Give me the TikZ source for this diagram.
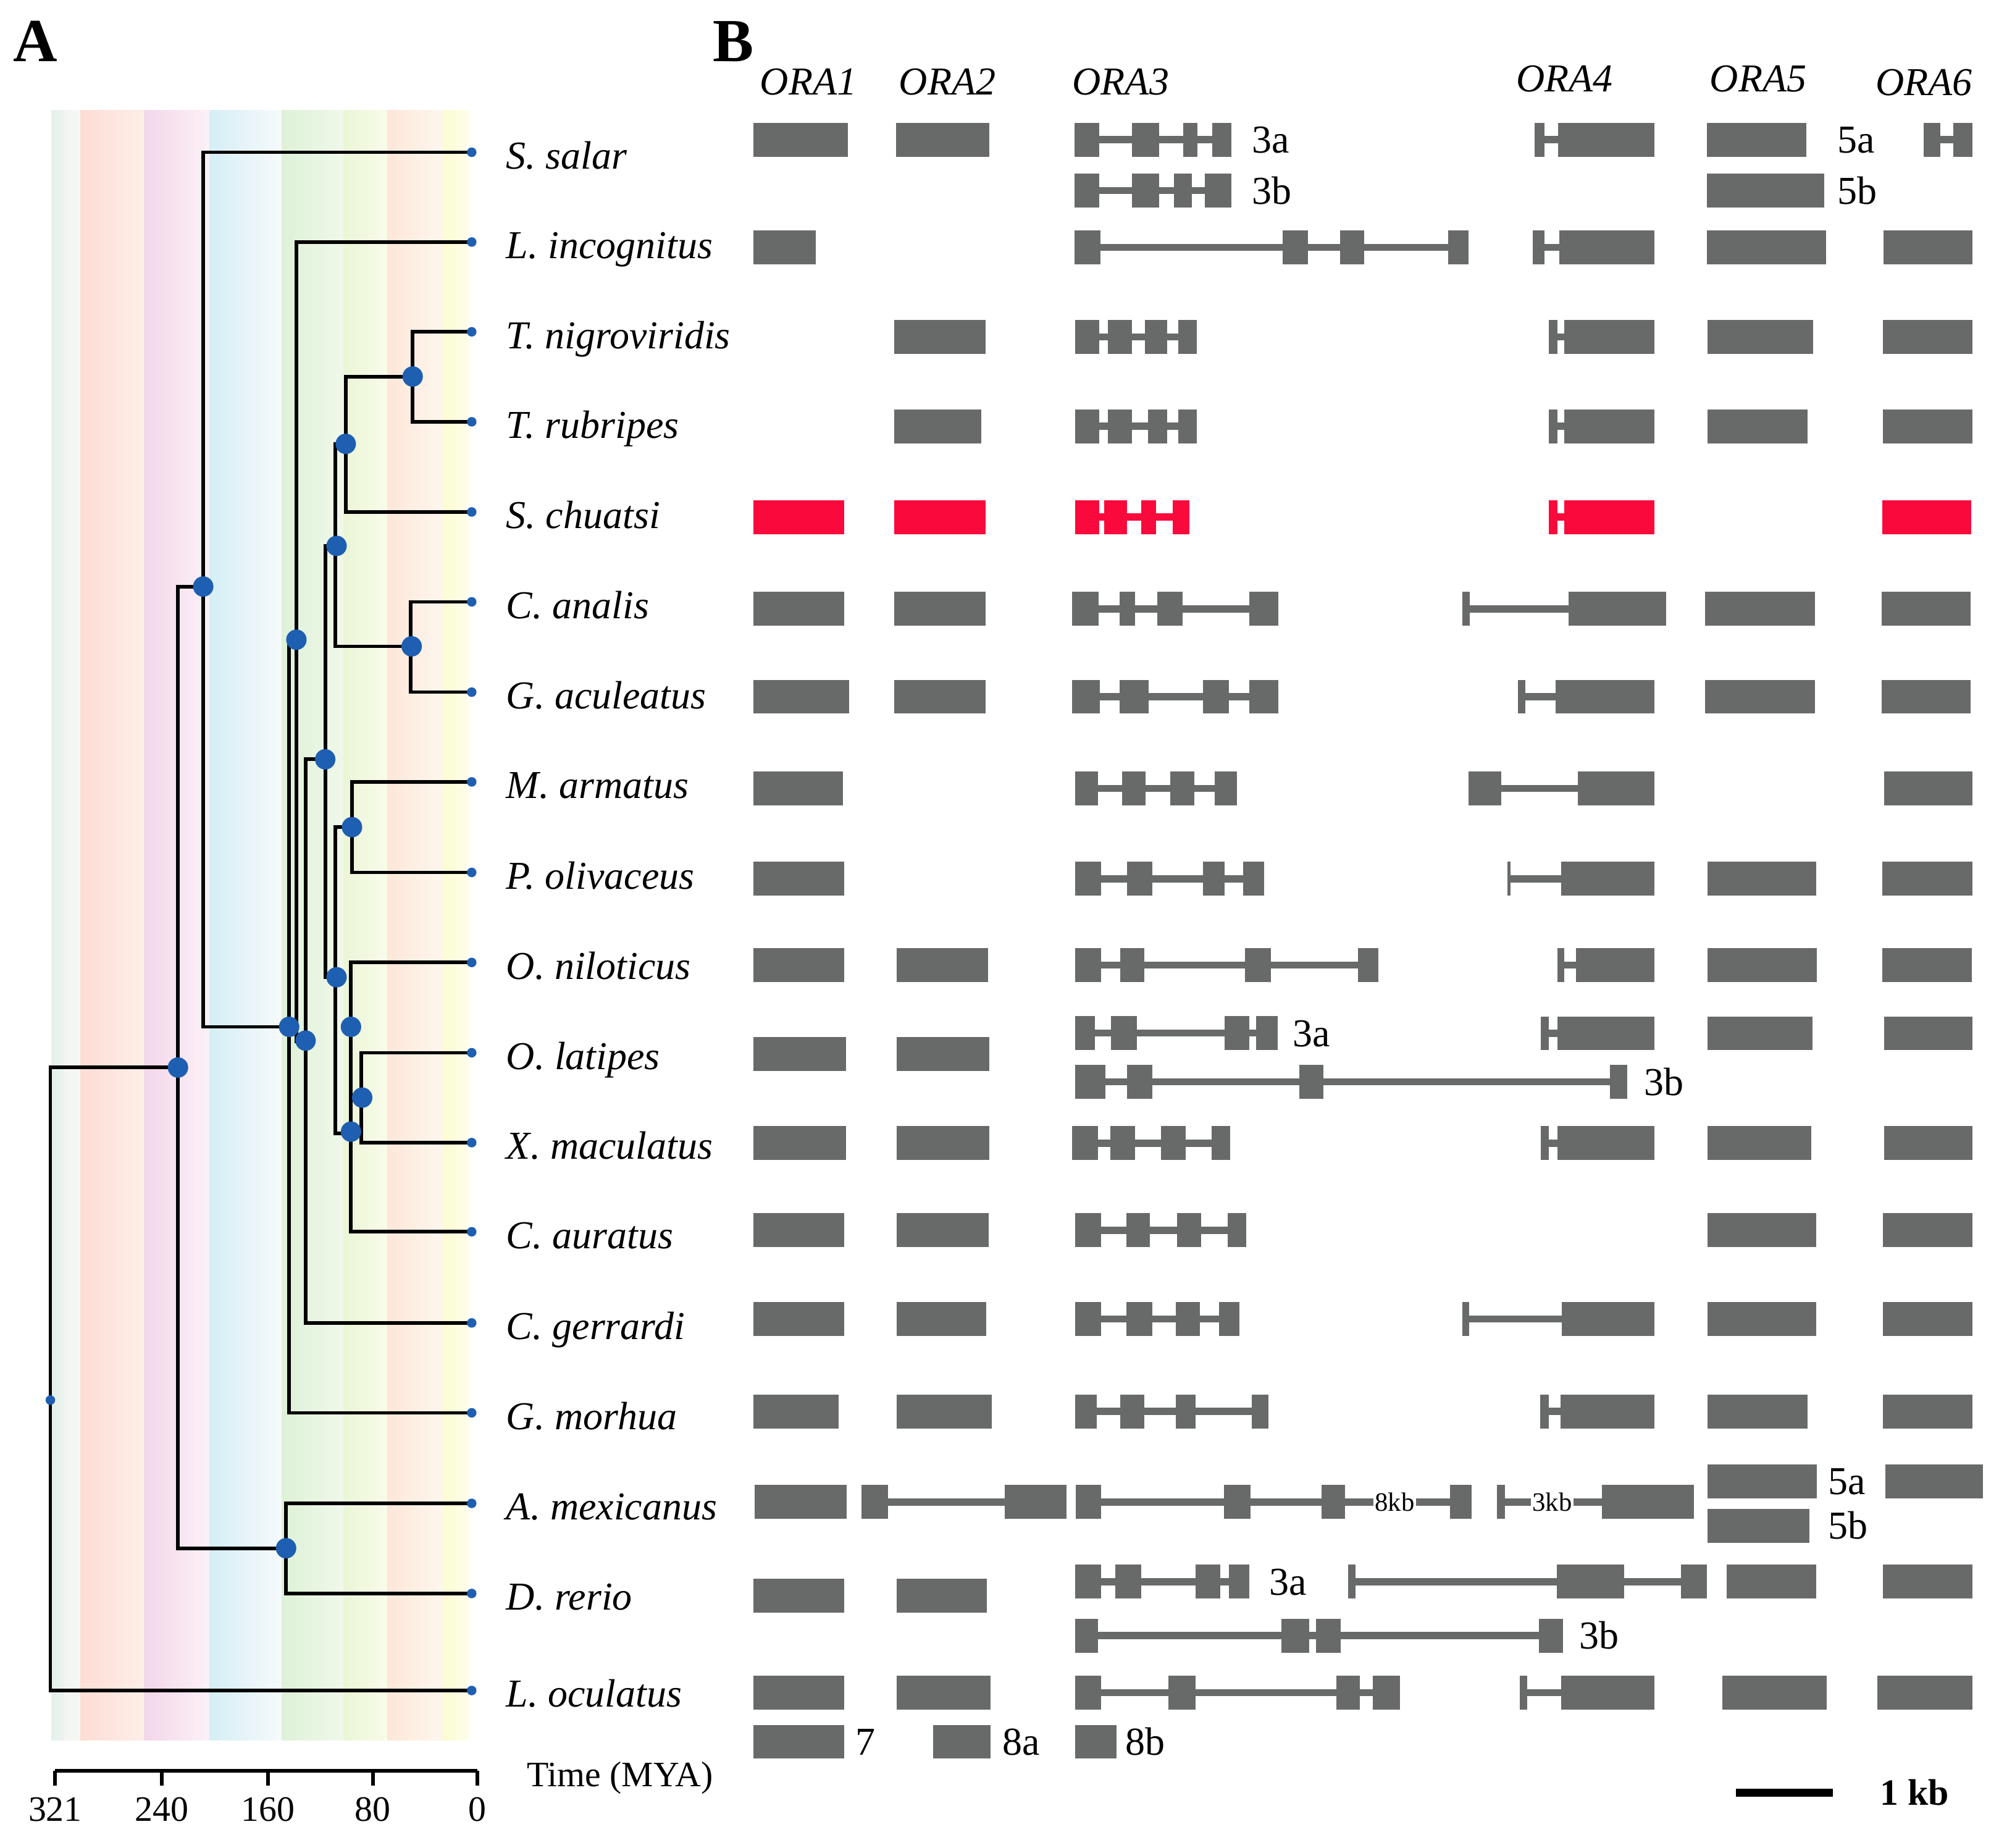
\documentclass[tikz,border=0pt]{standalone}
\usepackage{fontspec}
\setmainfont{Liberation Serif}
\definecolor{gg}{RGB}{104,106,106}
\definecolor{rd}{RGB}{250,10,60}
\definecolor{bl}{RGB}{30,95,178}
\definecolor{bAl}{RGB}{229,240,234}\definecolor{bAr}{RGB}{236,243,238}
\definecolor{bBl}{RGB}{242,245,241}\definecolor{bBr}{RGB}{246,247,244}
\definecolor{bCl}{RGB}{253,221,213}\definecolor{bCr}{RGB}{253,238,232}
\definecolor{bDl}{RGB}{243,215,235}\definecolor{bDr}{RGB}{252,240,246}
\definecolor{bEl}{RGB}{213,238,246}\definecolor{bEr}{RGB}{246,250,251}
\definecolor{bFl}{RGB}{222,241,215}\definecolor{bFr}{RGB}{240,248,234}
\definecolor{bGl}{RGB}{234,246,214}\definecolor{bGr}{RGB}{249,251,234}
\definecolor{bHl}{RGB}{253,231,216}\definecolor{bHr}{RGB}{253,246,238}
\definecolor{bIl}{RGB}{252,252,210}\definecolor{bIr}{RGB}{253,253,232}
\newcommand{\gEx}[4][gg]{\fill[#1] (#2,#4-13.3) rectangle (#3,#4+13.3);}
\newcommand{\gIn}[4][gg]{\fill[#1] (#2,#4-2.8) rectangle (#3,#4+2.8);}
\begin{document}
\begin{tikzpicture}[x=1pt,y=-1pt,
  treeline/.style={line width=2.8pt, line join=miter},
  bigdot/.style={circle, fill=bl, inner sep=0pt, minimum size=16pt},
  tipdot/.style={circle, fill=bl, inner sep=0pt, minimum size=7.5pt},
  spname/.style={anchor=base west, inner sep=0pt, font=\fontsize{31}{36}\selectfont\itshape},
  glab/.style={anchor=base west, inner sep=0pt, font=\fontsize{31}{36}\selectfont},
  oralab/.style={anchor=base west, inner sep=0pt, font=\fontsize{31}{36}\selectfont\itshape},
  kblab/.style={fill=white, inner sep=1pt, font=\fontsize{20.7}{24}\selectfont},
  axlab/.style={anchor=base, inner sep=0pt, font=\fontsize{28}{32}\selectfont},
  panel/.style={anchor=base west, inner sep=0pt, font=\fontsize{48}{54}\selectfont\bfseries}]
\useasboundingbox (0,0) rectangle (1568,1449);
\fill[white] (0,0) rectangle (1568,1449);

% ---------- background bands ----------
\shade[left color=bAl,right color=bAr] (40.3,86.5) rectangle (50.7,1365);
\shade[left color=bBl,right color=bBr] (50.7,86.5) rectangle (63,1365);
\shade[left color=bCl,right color=bCr] (63,86.5) rectangle (113.2,1365);
\shade[left color=bDl,right color=bDr] (113.2,86.5) rectangle (164.3,1365);
\shade[left color=bEl,right color=bEr] (164.3,86.5) rectangle (221.2,1365);
\shade[left color=bFl,right color=bFr] (221.2,86.5) rectangle (269.4,1365);
\shade[left color=bGl,right color=bGr] (269.4,86.5) rectangle (304,1365);
\shade[left color=bHl,right color=bHr] (304,86.5) rectangle (347.2,1365);
\shade[left color=bIl,right color=bIr] (347.2,86.5) rectangle (365.3,1365);
\shade[left color=bIr,right color=white] (365.3,86.5) rectangle (370.5,1365);

% ---------- panel labels ----------
\node[panel] (pA) at (10,48) {A};
\node[panel] (pB) at (559,48) {B};

% ---------- tips and species ----------
\foreach \n/\yy/\nm in {1/119.4/S. salar, 2/189.8/L. incognitus, 3/260.2/T. nigroviridis,
  4/330.8/T. rubripes, 5/401.5/S. chuatsi, 6/472/C. analis, 7/542.8/G. aculeatus,
  8/613.2/M. armatus, 9/684.2/P. olivaceus, 10/754.8/O. niloticus, 11/825.6/O. latipes,
  12/896.1/X. maculatus, 13/966/C. auratus, 14/1037.5/C. gerrardi, 15/1108/G. morhua,
  16/1179/A. mexicanus, 17/1249.7/D. rerio, 18/1325.8/L. oculatus}
  {\coordinate (t\n) at (370,\yy);
   \node[spname] (s\n) at (397,\yy+13) {\nm};}

% ---------- tree ----------
\draw[treeline] (t18) -| (39.5,837.2) -- (139.6,837.2);
\draw[treeline] (159.4,460) -- (139.6,460) -- (139.6,1214.2) -- (224.4,1214.2);
\draw[treeline] (t16) -| (224.4,1249.7) -- (t17);
\draw[treeline] (t1) -| (159.4,805.3) -- (226.8,805.3);
\draw[treeline] (t2) -| (232.5,818);
\draw[treeline] (t15) -| (226.8,501.7) -- (232.5,501.7);
\draw[treeline] (t14) -| (239.7,595.5) -- (255.1,595.5);
\draw[treeline] (263.2,428.1) -- (255.1,428.1) -- (255.1,766.4) -- (263.2,766.4);
\draw[treeline] (271.2,348.1) -- (263.2,348.1) -- (263.2,506.9) -- (322.9,506.9);
\draw[treeline] (t5) -| (271.2,295.3) -- (323.7,295.3);
\draw[treeline] (t3) -| (323.7,330.8) -- (t4);
\draw[treeline] (t6) -| (322.1,542.8) -- (t7);
\draw[treeline] (276.1,648.7) -- (263.2,648.7) -- (263.2,888.7) -- (275.3,888.7);
\draw[treeline] (t8) -| (276.1,684.2) -- (t9);
\draw[treeline] (t10) -| (275.3,966) -- (t13);
\draw[treeline] (t11) -| (283.3,896.1) -- (t12);

\foreach \n in {1,...,18} \node[tipdot] (d\n) at (t\n) {};
\node[tipdot] (root) at (39.5,1098) {};
\foreach \xx/\yy [count=\k] in {159.4/460, 139.6/837.2, 226.8/805.3, 232.5/501.7, 239.7/816.1,
  255.1/595.5, 264/428.1, 264/766.4, 271.2/348.1, 323.7/295.3, 322.9/506.9, 276.1/648.7,
  275.3/805.3, 275.3/887.5, 284.1/860.8, 224.4/1214.2}
  \node[bigdot] (n\k) at (\xx,\yy) {};

% ---------- time axis ----------
\draw[line width=3pt] (43.3,1388.7) -- (374.3,1388.7);
\foreach \xx/\lb in {43.3/321, 127/240, 210.2/160, 292.4/80, 374.3/0}
  {\draw[line width=3pt] (\xx,1388.7) -- (\xx,1400.5);
   \node[axlab] (ax\lb) at (\xx,1428) {\lb};}
\node[anchor=base west, inner sep=0pt, font=\fontsize{28}{32}\selectfont] (tmya) at (413,1401) {Time (MYA)};

% ---------- gene headers ----------
\node[oralab] (h1) at (596,74.5) {ORA1};
\node[oralab] (h2) at (705,74.5) {ORA2};
\node[oralab] (h3) at (841,74.5) {ORA3};
\node[oralab] (h4) at (1189,72) {ORA4};
\node[oralab] (h5) at (1341,72) {ORA5};
\node[oralab] (h6) at (1471,75) {ORA6};

% S. salar
\gEx{591}{665}{109.5}
\gEx{703}{776}{109.5}
\gIn{843}{966}{109.5}\gEx{843}{862}{109.5}\gEx{888}{909}{109.5}\gEx{928}{939}{109.5}\gEx{951}{966}{109.5}
\gIn{843}{966}{149.5}\gEx{843}{862}{149.5}\gEx{888}{909}{149.5}\gEx{921}{935}{149.5}\gEx{945}{966}{149.5}
\gIn{1203.5}{1222}{109.5}\gEx{1203.5}{1211.5}{109.5}\gEx{1222}{1297.5}{109.5}
\gEx{1339}{1417}{109.5}
\gEx{1339}{1431}{149.5}
\gIn{1509}{1532}{109.5}\gEx{1509}{1522}{109.5}\gEx{1532}{1547.3}{109.5}
\node[glab] (la1) at (982,120) {3a};
\node[glab] (la2) at (982,160) {3b};
\node[glab] (la3) at (1441,120) {5a};
\node[glab] (la4) at (1441,160) {5b};

% L. incognitus
\gEx{591}{640}{194}
\gIn{843}{1152}{194}\gEx{843}{863}{194}\gEx{1006}{1026}{194}\gEx{1051}{1070}{194}\gEx{1136}{1152}{194}
\gIn{1202.5}{1223}{194}\gEx{1202.5}{1211.5}{194}\gEx{1223}{1297.5}{194}
\gEx{1339}{1432.5}{194}
\gEx{1477.4}{1547.3}{194}

% T. nigroviridis
\gEx{701.5}{773.2}{264.3}
\gIn{843.5}{938.7}{264.3}\gEx{843.5}{862.2}{264.3}\gEx{869}{887.7}{264.3}\gEx{898}{915.6}{264.3}\gEx{924}{938.7}{264.3}
\gIn{1215}{1227}{264.3}\gEx{1215}{1221.6}{264.3}\gEx{1227}{1297.8}{264.3}
\gEx{1339.3}{1422.3}{264.3}
\gEx{1477}{1547.3}{264.3}

% T. rubripes
\gEx{701.5}{769.5}{334.3}
\gIn{843.5}{938.7}{334.3}\gEx{843.5}{862.2}{334.3}\gEx{869}{887.7}{334.3}\gEx{900.3}{915.6}{334.3}\gEx{924}{938.7}{334.3}
\gIn{1215}{1227}{334.3}\gEx{1215}{1221.6}{334.3}\gEx{1227}{1297.8}{334.3}
\gEx{1339.3}{1417.7}{334.3}
\gEx{1477}{1547.3}{334.3}

% S. chuatsi (red)
\gEx[rd]{591}{662.4}{405.5}
\gEx[rd]{701.5}{773.2}{405.5}
\gIn[rd]{843.5}{933}{405.5}\gEx[rd]{843.5}{862.2}{405.5}\gEx[rd]{866}{884}{405.5}\gEx[rd]{895}{907}{405.5}\gEx[rd]{920}{933}{405.5}
\gIn[rd]{1215}{1227}{405.5}\gEx[rd]{1215}{1221.6}{405.5}\gEx[rd]{1227}{1297.8}{405.5}
\gEx[rd]{1476.5}{1546.3}{405.5}

% C. analis
\gEx{591}{662.4}{477.5}
\gEx{701.5}{773.2}{477.5}
\gIn{840.8}{1002.6}{477.5}\gEx{840.8}{861.9}{477.5}\gEx{878.2}{890.1}{477.5}\gEx{907.8}{927.5}{477.5}\gEx{980.1}{1002.6}{477.5}
\gIn{1147}{1230.2}{477.5}\gEx{1147}{1153}{477.5}\gEx{1230.2}{1307}{477.5}
\gEx{1337.5}{1423.8}{477.5}
\gEx{1475.9}{1545.7}{477.5}

% G. aculeatus
\gEx{591}{665.8}{546.4}
\gEx{701.5}{773.2}{546.4}
\gIn{840.8}{1002.6}{546.4}\gEx{840.8}{862.9}{546.4}\gEx{878.2}{901}{546.4}\gEx{943.8}{963.8}{546.4}\gEx{980.1}{1002.6}{546.4}
\gIn{1190.5}{1220.1}{546.4}\gEx{1190.5}{1196.6}{546.4}\gEx{1220.1}{1297.8}{546.4}
\gEx{1337.5}{1423.8}{546.4}
\gEx{1475.9}{1545.7}{546.4}

% M. armatus
\gEx{591}{661.4}{618.4}
\gIn{843.5}{970}{618.4}\gEx{843.5}{861.2}{618.4}\gEx{879.9}{898.6}{618.4}\gEx{917.9}{937}{618.4}\gEx{952.9}{970}{618.4}
\gIn{1151.8}{1237.8}{618.4}\gEx{1151.8}{1177.4}{618.4}\gEx{1237.8}{1297.8}{618.4}
\gEx{1477.7}{1547.3}{618.4}

% P. olivaceus
\gEx{591}{662.4}{689.2}
\gIn{843.5}{991.7}{689.2}\gEx{843.5}{863.6}{689.2}\gEx{884}{903.7}{689.2}\gEx{943.4}{960.4}{689.2}\gEx{975}{991.7}{689.2}
\gIn{1182.3}{1224.7}{689.2}\gEx{1182.3}{1184.9}{689.2}\gEx{1224.7}{1297.8}{689.2}
\gEx{1339.3}{1424.4}{689.2}
\gEx{1476.5}{1547.3}{689.2}

% O. niloticus
\gEx{591}{662.4}{756.8}
\gEx{703.2}{774.9}{756.8}
\gIn{843.5}{1081.4}{756.8}\gEx{843.5}{863.6}{756.8}\gEx{878.9}{897.6}{756.8}\gEx{976.7}{997.1}{756.8}\gEx{1065.1}{1081.4}{756.8}
\gIn{1221.6}{1236.3}{756.8}\gEx{1221.6}{1227.1}{756.8}\gEx{1236.3}{1297.8}{756.8}
\gEx{1339.3}{1425.3}{756.8}
\gEx{1476.5}{1546.5}{756.8}

% O. latipes
\gIn{843.5}{1002.2}{810.2}\gEx{843.5}{858.8}{810.2}\gEx{871.4}{891.8}{810.2}\gEx{960.4}{980.1}{810.2}\gEx{985.2}{1002.2}{810.2}
\node[glab] (la5) at (1014,820.7) {3a};
\gEx{591}{663.8}{826.6}
\gEx{703.2}{776}{826.6}
\gIn{843.5}{1276.2}{848.5}\gEx{843.5}{867.3}{848.5}\gEx{884}{903.7}{848.5}\gEx{1019.2}{1037.9}{848.5}\gEx{1262.8}{1276.2}{848.5}
\node[glab] (la6) at (1289.6,859) {3b};
\gIn{1208.8}{1221.6}{810.4}\gEx{1208.8}{1214.9}{810.4}\gEx{1221.6}{1297.8}{810.4}
\gEx{1339.3}{1421.6}{810.4}
\gEx{1478}{1547.3}{810.4}

% X. maculatus
\gEx{591}{663.8}{896.5}
\gEx{703.2}{776}{896.5}
\gIn{840.8}{964.9}{896.5}\gEx{840.8}{861.2}{896.5}\gEx{870.7}{890.1}{896.5}\gEx{910.5}{929.8}{896.5}\gEx{950.2}{964.9}{896.5}
\gIn{1208.8}{1221.6}{896.5}\gEx{1208.8}{1214.9}{896.5}\gEx{1221.6}{1297.8}{896.5}
\gEx{1339.3}{1420.7}{896.5}
\gEx{1478}{1547.3}{896.5}

% C. auratus
\gEx{591}{662.4}{964.8}
\gEx{703.2}{775.6}{964.8}
\gIn{843.5}{977.4}{964.8}\gEx{843.5}{863.6}{964.8}\gEx{883.3}{902}{964.8}\gEx{923.1}{942.1}{964.8}\gEx{963.2}{977.4}{964.8}
\gEx{1339.3}{1424.4}{964.8}
\gEx{1477}{1547.3}{964.8}

% C. gerrardi
\gEx{591}{662.4}{1034.5}
\gEx{703.2}{773.5}{1034.5}
\gIn{843.5}{972.3}{1034.5}\gEx{843.5}{863.6}{1034.5}\gEx{883.3}{903.7}{1034.5}\gEx{922.4}{941.1}{1034.5}\gEx{956.4}{972.3}{1034.5}
\gIn{1147.2}{1225}{1034.5}\gEx{1147.2}{1152.4}{1034.5}\gEx{1225}{1297.8}{1034.5}
\gEx{1339.3}{1424.4}{1034.5}
\gEx{1477}{1547.3}{1034.5}

% G. morhua
\gEx{591}{657.6}{1106.9}
\gEx{703.2}{778}{1106.9}
\gIn{843.5}{994.7}{1106.9}\gEx{843.5}{860.2}{1106.9}\gEx{878.9}{897.6}{1106.9}\gEx{922.4}{937.7}{1106.9}\gEx{981.8}{994.7}{1106.9}
\gIn{1208.2}{1224.1}{1106.9}\gEx{1208.2}{1214.9}{1106.9}\gEx{1224.1}{1297.8}{1106.9}
\gEx{1339.3}{1417.7}{1106.9}
\gEx{1477}{1547.3}{1106.9}

% A. mexicanus
\gEx{591.7}{664.3}{1178}
\gIn{675.7}{788}{1178}\gEx{675.7}{696.5}{1178}\gEx{788}{836.5}{1178}
\gIn{843.7}{1154.3}{1178}\gEx{843.7}{863.5}{1178}\gEx{960}{980.7}{1178}\gEx{1036.5}{1054.8}{1178}\gEx{1137.5}{1154.3}{1178}
\node[kblab] (kb8) at (1094,1178) {8kb};
\gIn{1174.2}{1256.3}{1178}\gEx{1174.2}{1180.5}{1178}\gEx{1256.3}{1328.5}{1178}
\node[kblab] (kb3) at (1217.5,1178) {3kb};
\gEx{1339.3}{1425.3}{1161.7}
\gEx{1339.3}{1419.2}{1196.5}
\node[glab] (la7) at (1434,1172.2) {5a};
\node[glab] (la8) at (1434,1207) {5b};
\gEx{1478.7}{1555.5}{1161.7}

% D. rerio
\gIn{843.5}{980.1}{1240.5}\gEx{843.5}{863.6}{1240.5}\gEx{874.8}{895.2}{1240.5}\gEx{937.7}{957.4}{1240.5}\gEx{963.8}{980.1}{1240.5}
\node[glab] (la9) at (995.4,1251) {3a};
\gIn{1057.6}{1339}{1240.5}\gEx{1057.6}{1063.4}{1240.5}\gEx{1221}{1274}{1240.5}\gEx{1318.6}{1339}{1240.5}
\gEx{1354.6}{1424.4}{1240.5}
\gEx{1477.1}{1547.3}{1240.5}
\gEx{591}{662}{1251.4}
\gEx{703.2}{773.9}{1251.4}
\gIn{843.5}{1226.2}{1282.8}\gEx{843.5}{861.2}{1282.8}\gEx{1004.9}{1027}{1282.8}\gEx{1032.1}{1051.5}{1282.8}\gEx{1207.3}{1226.2}{1282.8}
\node[glab] (la10) at (1238.7,1293.3) {3b};

% L. oculatus
\gEx{591}{662.4}{1327.5}
\gEx{703.2}{777}{1327.5}
\gIn{843.5}{1098.3}{1327.5}\gEx{843.5}{863.9}{1327.5}\gEx{916.3}{937.7}{1327.5}\gEx{1048.1}{1066.8}{1327.5}\gEx{1077}{1098.3}{1327.5}
\gIn{1192}{1224.7}{1327.5}\gEx{1192}{1198.1}{1327.5}\gEx{1224.7}{1297.8}{1327.5}
\gEx{1350.9}{1432.9}{1327.5}
\gEx{1472.6}{1547.3}{1327.5}

% extra genes
\gEx{591}{662.4}{1366}
\node[glab] (la11) at (671,1376.5) {7};
\gEx{732.1}{776.9}{1366}
\node[glab] (la12) at (786.4,1376.5) {8a};
\gEx{843.5}{875.8}{1366}
\node[glab] (la13) at (882.6,1376.5) {8b};

% scale bar
\coordinate (sb1) at (1361.6,1406);
\coordinate (sb2) at (1437.8,1406);
\draw[line width=6pt] (sb1) -- (sb2);
\node[anchor=base west, inner sep=0pt, font=\fontsize{29}{33}\selectfont\bfseries] (kb) at (1474.5,1415.4) {1 kb};
\end{tikzpicture}
\end{document}
